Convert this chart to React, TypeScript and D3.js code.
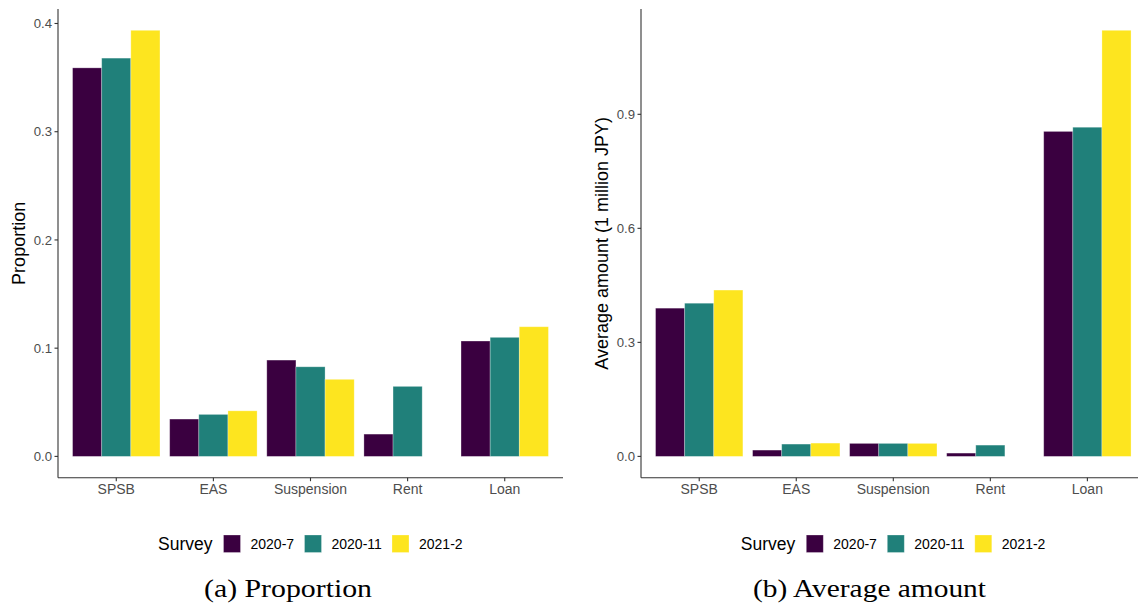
import React from "react";
import * as d3 from "d3";

// Support categories and survey waves
const categories = ["SPSB", "EAS", "Suspension", "Rent", "Loan"];
const surveys = ["2020-7", "2020-11", "2021-2"];
const surveyColors = ["#3a0040", "#20807a", "#fde51f"];

// (a) Proportion of respondents receiving each support
const proportion2020_7 = [0.359, 0.0345, 0.089, 0.0206, 0.1066];
const proportion2020_11 = [0.368, 0.0388, 0.0828, 0.0647, 0.11];
const proportion2021_2: (number | null)[] = [0.3937, 0.0421, 0.0712, null, 0.1198];
const proportionTicks = [0, 0.1, 0.2, 0.3, 0.4];

// (b) Average amount received (1 million JPY)
const amount2020_7 = [0.39, 0.0166, 0.0342, 0.0087, 0.855];
const amount2020_11 = [0.403, 0.0324, 0.0342, 0.0297, 0.866];
const amount2021_2: (number | null)[] = [0.4376, 0.035, 0.0342, null, 1.121];
const amountTicks = [0, 0.3, 0.6, 0.9];

const W = 1138;
const H = 607;
const TOP = 9;
const BOTTOM = 477.7;
const FONT = "'Liberation Sans', Arial, Helvetica, sans-serif";

type PanelProps = {
  left: number;
  right: number;
  series: (number | null)[][];
  ticks: number[];
  yLabel: string;
  yLabelX: number;
  caption: string;
  captionX: number;
  captionWidth: number;
};

function Panel({ left, right, series, ticks, yLabel, yLabelX, caption, captionX, captionWidth }: PanelProps) {
  const all = series.flat().filter((v): v is number => v != null);
  const maxV = d3.max(all) as number;
  const y = d3
    .scaleLinear()
    .domain([-0.05 * maxV, 1.05 * maxV])
    .range([BOTTOM, TOP]);
  const x = d3.scalePoint<string>().domain(categories).range([left, right]).padding(0.6);
  const step = x.step();
  const sub = d3
    .scaleBand<string>()
    .domain(surveys)
    .range([-0.45 * step, 0.45 * step]);

  const fmt = d3.format(".1f");
  const midY = (TOP + BOTTOM) / 2;
  const legendCenter = (left + right) / 2;

  // legend layout: title, then key + label for each survey
  const keyW = 17;
  const titleW = 54.5;
  const labelWs = [44, 50.5, 44];
  const legendTotal = titleW + 11 + surveys.reduce((s, _, i) => s + keyW + 10 + labelWs[i] + (i < surveys.length - 1 ? 10 : 0), 0);
  let cursor = legendCenter - legendTotal / 2;
  const titleX = cursor;
  cursor += titleW + 11;
  const legendItems = surveys.map((s, i) => {
    const kx = cursor;
    cursor += keyW + 10;
    const lx = cursor;
    cursor += labelWs[i] + 10;
    return { s, i, kx, lx };
  });

  return (
    <g>
      {/* bars */}
      {categories.map((c, ci) =>
        surveys.map((s, si) => {
          const v = series[si][ci];
          if (v == null) return null;
          const x0 = (x(c) as number) + (sub(s) as number);
          const y0 = y(Math.max(0, v));
          const y1 = y(Math.min(0, v));
          return (
            <rect
              key={`${c}-${s}`}
              x={x0}
              y={y0}
              width={sub.bandwidth()}
              height={y1 - y0}
              fill={surveyColors[si]}
              stroke="rgba(255,255,255,0.35)"
              strokeWidth={0.8}
            />
          );
        })
      )}

      {/* axes */}
      <line x1={left} x2={left} y1={TOP} y2={BOTTOM} stroke="#333" strokeWidth={1.1} />
      <line x1={left} x2={right} y1={BOTTOM} y2={BOTTOM} stroke="#333" strokeWidth={1.1} />
      {ticks.map((t) => (
        <g key={t}>
          <line x1={left - 3.5} x2={left} y1={y(t)} y2={y(t)} stroke="#333" strokeWidth={1.1} />
          <text
            x={left - 6}
            y={y(t)}
            dy="0.36em"
            textAnchor="end"
            fontFamily={FONT}
            fontSize={13.2}
            fill="#4d4d4d"
          >
            {fmt(t)}
          </text>
        </g>
      ))}
      {categories.map((c) => (
        <g key={c}>
          <line x1={x(c)} x2={x(c)} y1={BOTTOM} y2={BOTTOM + 3.5} stroke="#333" strokeWidth={1.1} />
          <text x={x(c)} y={494} textAnchor="middle" fontFamily={FONT} fontSize={14} fill="#4d4d4d">
            {c}
          </text>
        </g>
      ))}
      <text
        transform={`translate(${yLabelX},${midY}) rotate(-90)`}
        textAnchor="middle"
        fontFamily={FONT}
        fontSize={18}
        fill="#000"
      >
        {yLabel}
      </text>

      {/* legend */}
      <text x={titleX} y={550} fontFamily={FONT} fontSize={17.5} fill="#000">
        Survey
      </text>
      {legendItems.map(({ s, i, kx, lx }) => (
        <g key={s}>
          <rect x={kx} y={535} width={keyW} height={17.5} fill={surveyColors[i]} stroke="rgba(255,255,255,0.35)" strokeWidth={0.8} />
          <text x={lx} y={549} fontFamily={FONT} fontSize={14} fill="#000">
            {s}
          </text>
        </g>
      ))}

      {/* subfigure caption */}
      <text
        x={captionX}
        y={597}
        fontFamily="'Liberation Serif', 'Times New Roman', serif"
        fontSize={26}
        fill="#000"
        textLength={captionWidth}
        lengthAdjust="spacingAndGlyphs"
      >
        {caption}
      </text>
    </g>
  );
}

export default function App() {
  return (
    <svg
      width={W}
      height={H}
      viewBox={`0 0 ${W} ${H}`}
      style={{ position: "absolute", left: 0, top: 0, background: "#fff" }}
    >
      <rect width={W} height={H} fill="#fff" />
      <Panel
        left={58}
        right={563}
        series={[proportion2020_7, proportion2020_11, proportion2021_2]}
        ticks={proportionTicks}
        yLabel="Proportion"
        yLabelX={25}
        caption="(a) Proportion"
        captionX={204}
        captionWidth={168}
      />
      <Panel
        left={641}
        right={1145.6}
        series={[amount2020_7, amount2020_11, amount2021_2]}
        ticks={amountTicks}
        yLabel="Average amount (1 million JPY)"
        yLabelX={608}
        caption="(b) Average amount"
        captionX={753}
        captionWidth={233}
      />
    </svg>
  );
}
